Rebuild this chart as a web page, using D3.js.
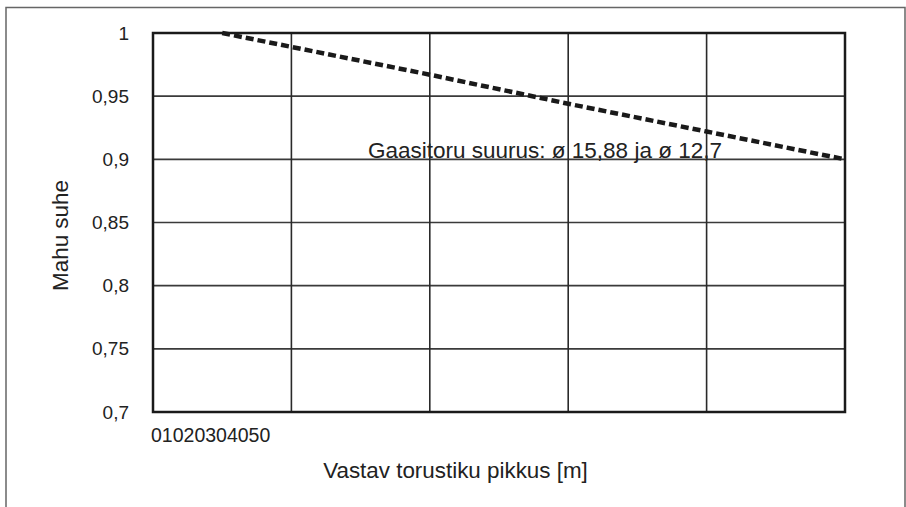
<!DOCTYPE html>
<html>
<head>
<meta charset="utf-8">
<script src="https://cdn.jsdelivr.net/npm/d3@7"></script>
<style>
  body { margin: 0; background: #fff; }
  svg { display: block; font-family: "Liberation Sans", Arial, sans-serif; }
</style>
</head>
<body>
<div id="chart"></div>
<script>
// data
const lengths = [5, 10, 20, 30, 40, 50];
const ratios = [1.0, 0.989, 0.967, 0.944, 0.922, 0.9];
const xTicks = [0, 10, 20, 30, 40, 50];
const yTicks = [0.7, 0.75, 0.8, 0.85, 0.9, 0.95, 1];
const seriesLabel = "Gaasitoru suurus: ø 15,88 ja ø 12,7";

const W = 906, H = 507;
const margin = { top: 33, right: 61, bottom: 95, left: 153 };
const width = W - margin.left - margin.right;
const height = H - margin.top - margin.bottom;

const svg = d3.select("#chart").append("svg")
    .attr("width", W)
    .attr("height", H);

// outer frame (bottom is cut off in the picture)
svg.append("path")
    .attr("d", `M6,${H} V7.5 H905 V${H}`)
    .attr("fill", "none")
    .attr("stroke", "#666")
    .attr("stroke-width", 1.5);

const x = d3.scaleLinear().domain([0, 50]).range([0, width]);
const y = d3.scaleLinear().domain([0.7, 1]).range([height, 0]);

const plot = svg.append("g")
    .attr("transform", `translate(${margin.left},${margin.top})`);

// grid
plot.append("g")
    .selectAll("line")
    .data(yTicks)
    .join("line")
    .attr("x1", 0).attr("x2", width)
    .attr("y1", d => y(d)).attr("y2", d => y(d))
    .attr("stroke", "#3a3a3a")
    .attr("stroke-width", 1.6);

plot.append("g")
    .selectAll("line")
    .data(xTicks)
    .join("line")
    .attr("x1", d => x(d)).attr("x2", d => x(d))
    .attr("y1", 0).attr("y2", height)
    .attr("stroke", "#2a2a2a")
    .attr("stroke-width", 1.6);

// plot border
plot.append("rect")
    .attr("width", width)
    .attr("height", height)
    .attr("fill", "none")
    .attr("stroke", "#1a1a1a")
    .attr("stroke-width", 2.5);

// y tick labels
const fmt = d => String(+d.toFixed(2)).replace(".", ",");
plot.append("g")
    .selectAll("text")
    .data(yTicks)
    .join("text")
    .attr("x", -24)
    .attr("y", d => y(d))
    .attr("dy", "0.35em")
    .attr("text-anchor", "end")
    .attr("font-size", 19)
    .attr("fill", "#222")
    .text(fmt);

// x tick labels come out squashed together in the original
plot.append("text")
    .attr("x", -2)
    .attr("y", height + 30)
    .attr("font-size", 19.5)
    .attr("fill", "#222")
    .text(xTicks.join(""));

// series
const line = d3.line()
    .x(d => x(d[0]))
    .y(d => y(d[1]));

plot.append("path")
    .datum(lengths.map((l, i) => [l, ratios[i]]))
    .attr("d", line)
    .attr("fill", "none")
    .attr("stroke", "#1a1a1a")
    .attr("stroke-width", 4.5)
    .attr("stroke-dasharray", "8,4");

plot.append("text")
    .attr("x", 215)
    .attr("y", y(0.9) - 1.5)
    .attr("font-size", 22.5)
    .attr("fill", "#222")
    .text(seriesLabel);

// axis titles
svg.append("text")
    .attr("transform", `translate(68,${margin.top + height / 2 + 13}) rotate(-90)`)
    .attr("text-anchor", "middle")
    .attr("font-size", 22.4)
    .attr("fill", "#222")
    .text("Mahu suhe");

svg.append("text")
    .attr("x", 455.5)
    .attr("y", 478)
    .attr("text-anchor", "middle")
    .attr("font-size", 22.4)
    .attr("fill", "#222")
    .text("Vastav torustiku pikkus [m]");
</script>
</body>
</html>
